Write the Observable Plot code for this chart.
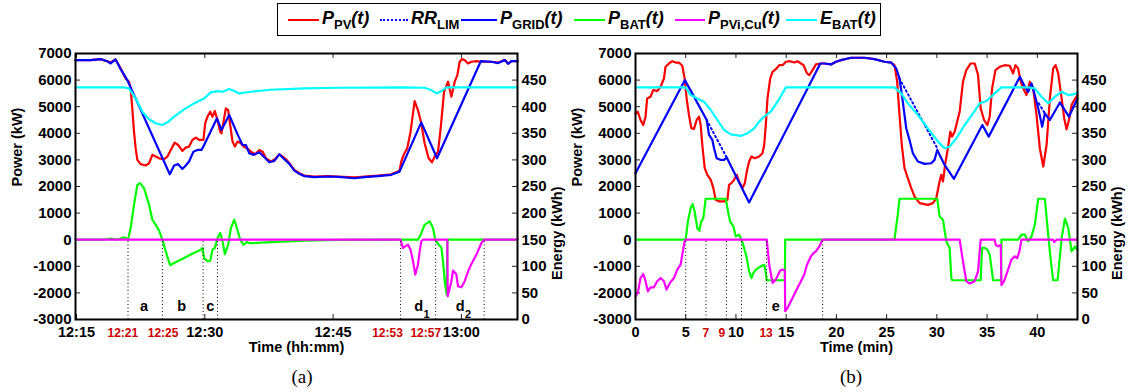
<!DOCTYPE html>
<html><head><meta charset="utf-8">
<script src="https://cdn.jsdelivr.net/npm/d3@7"></script>
<script src="https://cdn.jsdelivr.net/npm/@observablehq/plot@0.6"></script>
<style>
body{margin:0;background:#fff;width:1129px;height:392px;overflow:hidden;font-family:"Liberation Sans",Arial,sans-serif;}
#wrap{position:relative;width:1129px;height:392px;}
#legend{position:absolute;left:277px;top:3px;width:604px;height:33px;border:1.5px solid #000;box-sizing:border-box;background:#fff;}
.item{position:absolute;top:0;height:100%;display:flex;align-items:center;white-space:nowrap;}
.lbl{font-weight:bold;font-size:18px;font-style:italic;line-height:20px;position:relative;top:-2px;}
.sw{display:inline-block;width:31px;height:0;border-top:2px solid;margin-right:3px;}
.lbl sub{font-size:13px;font-style:normal;vertical-align:-5px;line-height:0;}
.cap{position:absolute;top:366px;font-family:"Liberation Serif","Times New Roman",serif;font-size:19px;transform:translateX(-50%);}
.panel{position:absolute;top:40px;}
</style></head>
<body><div id="wrap">
<div id="legend">
  <div class="item" style="left:10px"><span class="sw" style="border-top-color:#ff0000"></span><span class="lbl">P<sub>PV</sub>(t)</span></div>
  <div class="item" style="left:102px"><span class="sw" style="border-top:2px dotted #0000ff;width:28px"></span><span class="lbl">RR<sub>LIM</sub></span></div>
  <div class="item" style="left:183px"><span class="sw" style="border-top-color:#0000ff;width:36px"></span><span class="lbl">P<sub>GRID</sub>(t)</span></div>
  <div class="item" style="left:296px"><span class="sw" style="border-top-color:#00ff00"></span><span class="lbl">P<sub>BAT</sub>(t)</span></div>
  <div class="item" style="left:397px"><span class="sw" style="border-top-color:#ff00ff;width:30px"></span><span class="lbl">P<sub>PVi,Cu</sub>(t)</span></div>
  <div class="item" style="left:508px"><span class="sw" style="border-top-color:#00ffff"></span><span class="lbl">E<sub>BAT</sub>(t)</span></div>
</div>
<div id="pa" class="panel" style="left:0px"></div>
<div id="pb" class="panel" style="left:565px"></div>
<div class="cap" style="left:302px">(a)</div>
<div class="cap" style="left:851px">(b)</div>
</div>
<script>
// ---------- shared ticks ----------
const powerTicks = [-3000,-2000,-1000,0,1000,2000,3000,4000,5000,6000,7000];
const energyTicks = [0,50,100,150,200,250,300,350,400,450];
const eToP = e => e * 20 - 3000; // energy axis 0..500 kWh aligned with power axis -3000..7000 kW

// ---------- panel (a): time in minutes after 12:00 ----------
const aTicks = [15, 30, 45, 60];
const aRedTicks = [21, 25, 53, 57];
const aRedDx = [-5, 1, -14, -10];
const aDots = [21.02, 25.04, 29.8, 31.48, 52.89, 56.99, 62.66];
const aLetters = [["a",22.89],["b",27.3],["c",30.63],["d",55.0],["d",59.85]];
const aSubs = [["1",55.0],["2",59.85]];
const aPV = [[14.88,6750],[16.64,6750],[17.81,6790],[18.59,6710],[18.98,6660],[19.57,6775],[20.16,6440],[20.74,6060],[21.13,5940],[21.33,5690],[21.52,4940],[21.72,4060],[21.91,3440],[22.11,3000],[22.5,2840],[23.09,2790],[23.48,2875],[23.87,3190],[24.26,3125],[24.65,3060],[25.23,3025],[25.63,3125],[26.02,3375],[26.48,3650],[26.88,3560],[27.38,3340],[27.77,3460],[28.16,3500],[28.55,3750],[28.95,3840],[29.34,3750],[29.84,3750],[30.04,4375],[30.31,4625],[30.63,4810],[30.9,4625],[31.17,4840],[31.48,4500],[31.8,4060],[31.95,4000],[32.19,4440],[32.46,4940],[32.73,4875],[32.97,4310],[33.24,3690],[33.52,3500],[33.83,3690],[34.22,3625],[34.53,3500],[34.92,3440],[35.39,3310],[35.9,3210],[36.37,3375],[36.76,3310],[37.15,3060],[37.73,2940],[38.2,3025],[38.71,3210],[39.1,3125],[39.49,3025],[39.88,2875],[40.47,2625],[41.05,2500],[41.64,2410],[42.81,2375],[44.38,2390],[45.55,2375],[47.5,2340],[48.67,2375],[50.23,2410],[51.8,2460],[52.77,2590],[52.97,2940],[53.28,3210],[53.67,3440],[54.06,4060],[54.53,5210],[54.92,4875],[55.31,4375],[55.7,3625],[56.17,3060],[56.56,2910],[56.88,3125],[57.27,3310],[57.58,4190],[57.97,5560],[58.44,5940],[58.83,5375],[59.22,5940],[59.53,6190],[59.8,6690],[60.08,6790],[60.39,6750],[60.78,6625],[61.17,6690],[61.76,6710],[62.34,6690],[63.52,6690],[64.3,6660],[65.08,6750],[65.47,6625],[65.86,6710],[66.56,6710]];
const aGRID = [[14.88,6750],[16.64,6750],[17.81,6790],[18.59,6710],[18.98,6625],[19.57,6775],[20.16,6410],[20.94,6000],[25.9,2460],[26.41,2790],[26.88,2840],[27.38,2660],[27.77,2790],[28.16,2940],[28.67,3310],[29.14,3375],[29.61,3375],[29.92,3560],[31.41,4560],[31.95,4125],[32.85,4690],[33.83,3960],[34.41,3560],[34.8,3560],[35.2,3250],[35.7,3190],[36.37,3290],[36.88,3125],[37.54,2910],[38.13,2960],[38.71,3210],[39.3,3025],[39.88,2850],[40.47,2600],[41.05,2475],[41.64,2390],[42.81,2350],[44.38,2375],[45.55,2360],[47.5,2310],[48.67,2350],[50.23,2390],[51.8,2440],[52.77,2560],[55.31,4410],[57.15,3060],[62.27,6710],[63.52,6690],[64.3,6640],[65.08,6760],[65.47,6610],[65.86,6710],[66.56,6710]];
const aBAT = [[14.88,0],[18.2,0],[18.98,40],[19.77,0],[20.55,90],[21.02,0],[21.33,440],[21.72,1310],[22.11,2060],[22.42,2125],[22.89,1940],[23.48,1310],[23.87,750],[24.26,560],[24.65,340],[25.04,0],[25.43,-440],[25.94,-960],[26.41,-875],[27.19,-750],[28.36,-560],[29.53,-375],[29.73,-310],[29.92,-690],[30.31,-810],[30.63,-790],[30.9,-375],[31.17,-310],[31.48,60],[31.8,250],[32.07,-60],[32.34,-540],[32.73,-190],[33.05,440],[33.44,750],[33.75,440],[34.14,0],[34.53,-190],[34.92,-90],[35.2,-125],[35.78,-125],[37.73,-90],[41.64,-40],[45.55,-10],[52.77,0],[54.92,0],[55.23,190],[55.7,560],[56.29,690],[56.68,440],[56.95,0],[57.27,-160],[57.66,-290],[57.85,-810],[58.05,-1560],[58.28,-2060],[58.36,0],[66.56,0]];
const aCU = [[14.88,0],[52.89,0],[53.16,-310],[53.44,-250],[53.75,-190],[54.06,-375],[54.34,-810],[54.61,-1310],[54.92,-940],[55.12,-440],[55.31,-60],[55.51,0],[58.36,0],[58.4,-2125],[58.83,-1560],[59.02,-1160],[59.41,-1310],[59.61,-1750],[60.0,-1790],[60.39,-1560],[60.78,-1190],[61.17,-910],[61.76,-560],[62.34,-125],[62.66,0],[66.56,0]];
const aEBAT = [[14.88,436.3],[20.55,436.3],[21.13,434.4],[21.91,415.6],[22.7,390.6],[23.48,376.3],[24.26,368.8],[25.04,365.6],[25.63,370.6],[26.41,381.3],[27.58,395],[28.75,406.3],[29.92,415.6],[30.7,426.9],[31.48,429.4],[32.07,428.1],[32.85,433.1],[33.44,429.4],[34.02,425],[35.39,428.1],[37.73,431.9],[41.64,434.4],[45.55,435.6],[53.36,436.3],[55.7,435.6],[56.48,431.3],[57.07,425],[57.66,429.4],[58.24,436.3],[66.56,436.3]];
const aRR = [];

// ---------- panel (b): time in minutes ----------
const bTicks = [0,5,10,15,20,25,30,35,40];
const bRedTicks = [7, 9, 13];
const bRedDx = [0, -4, 0];
const bDots = [5.0, 7.02, 9.05, 10.55, 13.04, 18.63];
const bLetters = [["e",13.97]];
const bSubs = [];
const bPV = [[0,4750],[0.23,4810],[0.5,4500],[0.77,4310],[1.0,4625],[1.16,5310],[1.5,5375],[1.76,5625],[2.16,5590],[2.5,5750],[2.83,6060],[2.99,6500],[3.33,6625],[3.66,6710],[3.99,6660],[4.32,6660],[4.66,6540],[4.89,6060],[5.09,5310],[5.32,4690],[5.56,4190],[5.82,4160],[6.09,4500],[6.32,4625],[6.49,4310],[6.65,3560],[6.89,2690],[7.15,2440],[7.49,2250],[7.75,1940],[7.98,1500],[8.32,1440],[8.82,1440],[9.15,1500],[9.31,2060],[9.55,2125],[9.81,2250],[10.08,2440],[10.31,2190],[10.65,1940],[10.88,2125],[11.08,2560],[11.31,2940],[11.54,3125],[11.88,3060],[12.31,3125],[12.64,3250],[12.81,3560],[12.97,4310],[13.14,5310],[13.41,6060],[13.64,6310],[13.97,6410],[14.3,6560],[14.64,6560],[14.97,6690],[15.4,6710],[15.8,6660],[16.13,6710],[16.47,6625],[16.73,6560],[17.07,6250],[17.3,6190],[17.63,6375],[17.96,6590],[18.46,6625],[18.8,6625],[19.46,6590],[19.96,6690],[20.46,6750],[21.46,6840],[22.79,6840],[23.79,6790],[24.78,6690],[25.45,6660],[25.78,6560],[26.05,5940],[26.28,4690],[26.51,3560],[26.78,2690],[27.11,2310],[27.45,1940],[27.78,1625],[28.28,1375],[29.11,1310],[29.61,1375],[29.94,1560],[30.27,2190],[30.44,2440],[30.61,2190],[30.84,2875],[31.1,3440],[31.34,4060],[31.5,3875],[31.77,4060],[32.27,4810],[32.6,5940],[32.93,6375],[33.37,6625],[33.77,6625],[34.1,6190],[34.36,4940],[34.7,4500],[35.03,4310],[35.26,4625],[35.5,5690],[35.83,6375],[36.26,6500],[36.76,6560],[37.26,6540],[37.59,6250],[37.82,6560],[38.09,6440],[38.36,5940],[38.59,5690],[38.92,5440],[39.25,5940],[39.59,5690],[39.92,4690],[40.25,3440],[40.59,2750],[40.92,3560],[41.25,5310],[41.58,6440],[41.82,6560],[42.08,6250],[42.42,5310],[42.68,4560],[42.91,4150],[43.15,4500],[43.41,5060],[43.68,5250],[44.0,5440]];
const bGRID = [[0,2500],[4.92,6000],[7.09,4500],[7.32,3940],[7.65,3750],[7.82,3440],[8.08,3060],[8.48,3000],[8.82,3000],[9.08,3090],[11.31,1400],[18.4,6625],[18.8,6625],[19.46,6590],[19.96,6690],[20.46,6750],[21.46,6840],[22.79,6840],[23.79,6790],[24.78,6690],[25.45,6660],[25.95,6440],[26.28,6060],[26.61,5190],[26.95,4190],[27.28,3750],[27.61,3250],[28.11,2940],[28.78,2850],[29.44,2875],[29.77,3000],[30.04,3375],[30.27,3190],[30.77,2810],[31.7,2290],[34.53,4310],[35.16,3875],[38.26,6125],[38.76,5750],[39.09,5560],[39.42,5875],[39.75,5440],[40.09,4940],[40.49,4250],[40.75,4750],[41.25,4500],[42.25,5160],[43.15,4625],[44.0,5310]];
const bRR = [[7.09,4500,1],[9.08,3090,1],[26.28,6060,2],[30.04,3440,2],[40.15,5125,3],[40.75,4750,3]];
const bBAT = [[0,0],[4.99,0],[5.22,690],[5.49,1190],[5.69,1340],[5.89,1060],[6.15,440],[6.35,340],[6.55,690],[6.75,810],[6.99,1540],[8.98,1540],[9.21,1060],[9.41,690],[9.75,500],[9.98,125],[10.31,190],[10.55,0],[10.81,-310],[11.08,-690],[11.31,-1190],[11.54,-1440],[11.74,-1250],[11.98,-1125],[12.47,-1000],[12.81,-940],[12.97,-1250],[13.07,-1525],[14.87,-1525],[14.9,0],[25.78,0],[26.11,940],[26.28,1540],[30.04,1540],[30.27,875],[30.61,750],[30.94,-60],[31.27,-310],[31.44,-1440],[31.54,-1525],[34.36,-1525],[34.5,-310],[34.76,-310],[35.03,-375],[35.26,-560],[35.6,-1525],[36.39,-1525],[36.43,0],[38.09,0],[38.42,190],[38.76,190],[39.09,-60],[39.42,125],[39.75,560],[40.09,1540],[40.75,1540],[41.08,190],[41.35,-810],[41.58,-1525],[42.02,-1525],[42.42,60],[42.75,790],[43.08,440],[43.41,-440],[43.75,-250],[44.0,-375]];
const bCU = [[0,-2125],[0.23,-2000],[0.5,-1440],[0.77,-1290],[1.0,-1560],[1.23,-1940],[1.5,-1790],[1.83,-1790],[2.16,-1560],[2.5,-1440],[2.83,-1560],[3.09,-1875],[3.43,-1625],[3.83,-1440],[4.16,-1125],[4.49,-940],[4.66,-560],[4.89,-60],[4.99,0],[13.07,0],[13.31,-940],[13.64,-1625],[13.97,-1500],[14.4,-1160],[14.64,-1125],[14.87,-1160],[14.9,-2690],[15.14,-2560],[15.47,-2310],[15.8,-2060],[16.13,-1810],[16.47,-1560],[16.8,-1310],[17.07,-940],[17.47,-625],[17.73,-500],[17.96,-440],[18.3,-250],[18.63,0],[32.27,0],[32.6,-810],[32.93,-1560],[33.27,-1650],[33.77,-1560],[34.1,-1190],[34.36,0],[35.76,0],[35.86,-190],[36.09,-250],[36.36,-190],[36.43,-1710],[36.69,-1560],[37.09,-1125],[37.42,-750],[37.76,-625],[37.99,-690],[38.22,-440],[38.42,0],[41.58,0],[41.68,-90],[41.92,0],[44.0,0]];
const bEBAT = [[0,436.3],[4.99,436.3],[5.49,421.9],[6.15,415.6],[6.82,409.4],[7.49,393.8],[8.15,375],[8.82,356.3],[9.48,348.1],[10.48,345],[11.14,350],[11.81,359.4],[12.31,371.9],[12.81,381.3],[13.47,390.6],[14.14,409.4],[14.97,436.3],[25.78,436.3],[26.45,425],[27.11,406.3],[28.11,384.4],[29.11,359.4],[30.11,334.4],[30.77,321.9],[31.27,325],[31.94,340.6],[32.77,365.6],[33.6,387.5],[34.26,406.3],[34.93,410.6],[35.76,425],[36.43,436.3],[39.09,436.3],[39.75,434.4],[40.42,418.8],[41.08,406.3],[41.75,418.8],[42.42,428.1],[43.08,421.9],[43.58,423.1],[44.0,426.3]];

const fmtA = d => `${12 + Math.floor(d / 60)}:${String(d % 60).padStart(2, "0")}`;
const fmtB = d => String(d);

function panel(o) {
  const H = 266, W = o.width - o.ml - o.mr;
  const font = "'Liberation Sans', Arial, sans-serif";
  return Plot.plot({
    width: o.width, height: 330,
    marginLeft: o.ml, marginRight: o.mr, marginTop: 13, marginBottom: 51,
    x: {domain: o.xDomain, axis: null},
    y: {domain: [-3000, 7000], axis: null},
    style: {fontFamily: font, fontWeight: "bold", fontSize: "15px", overflow: "visible", background: "transparent", color: "#000"},
    marks: [
      // inward ticks
      Plot.tickY(powerTicks, {y: d => d, insetRight: W - 5, stroke: "#222", strokeWidth: 1}),
      Plot.tickY(energyTicks, {y: d => eToP(d), insetLeft: W - 5, stroke: "#222", strokeWidth: 1}),
      Plot.tickX(o.xTicks, {x: d => d, insetTop: H - 5, stroke: "#222", strokeWidth: 1}),
      Plot.tickX(o.xTicks, {x: d => d, insetBottom: H - 5, stroke: "#222", strokeWidth: 1}),
      // series
      Plot.line(o.pv, {x: d => d[0], y: d => d[1], stroke: "#ff0000", strokeWidth: 2.2}),
      Plot.line(o.rr, {x: d => d[0], y: d => d[1], z: d => d[2], stroke: "#0000ff", strokeWidth: 2, strokeDasharray: "1.5,3"}),
      Plot.line(o.grid, {x: d => d[0], y: d => d[1], stroke: "#0000ff", strokeWidth: 2.2}),
      Plot.line(o.bat, {x: d => d[0], y: d => d[1], stroke: "#00ff00", strokeWidth: 2.2}),
      Plot.line(o.cu, {x: d => d[0], y: d => d[1], stroke: "#ff00ff", strokeWidth: 2.2}),
      Plot.line(o.ebat, {x: d => d[0], y: d => eToP(d[1]), stroke: "#00ffff", strokeWidth: 2.2}),
      // dotted interval markers
      Plot.ruleX(o.dots, {x: d => d, y1: -3000, y2: 0, stroke: "#000", strokeWidth: 1, strokeDasharray: "1,2.5"}),
      Plot.text(o.letters, {x: d => d[1], y: -2500, text: d => d[0], fontSize: 14.5, fontWeight: "bold", fill: "#000"}),
      Plot.text(o.subs, {x: d => d[1], y: -2500, text: d => d[0], dx: 8, dy: 8, fontSize: 11, fontWeight: "bold", fill: "#000"}),
      // tick labels
      Plot.text(powerTicks, {y: d => d, frameAnchor: "left", textAnchor: "end", dx: -4, text: d => String(d), fontSize: 15, fill: "#000"}),
      Plot.text(energyTicks, {y: d => eToP(d), frameAnchor: "right", textAnchor: "start", dx: 4, text: d => String(d), fontSize: 15, fill: "#000"}),
      Plot.text(o.xTicks, {x: d => d, frameAnchor: "bottom", lineAnchor: "top", dy: 7.5, text: o.fmt, fontSize: 14.5, fill: "#000"}),
      ...o.redTicks.map((t, i) => Plot.text([t], {x: d => d, frameAnchor: "bottom", lineAnchor: "top", dy: 8.5, dx: o.redDx[i], text: o.fmt, fontSize: 12, fill: "#cc0000"})),
      // axis titles
      Plot.text(["Power (kW)"], {frameAnchor: "left", rotate: -90, dx: -58, fontSize: 14.5, fill: "#000"}),
      Plot.text(["Energy (kWh)"], {frameAnchor: "right", rotate: -90, dx: 40, fontSize: 14.5, fill: "#000"}),
      Plot.text([o.xLabel], {frameAnchor: "bottom", lineAnchor: "middle", dy: 28, fontSize: 14.5, fill: "#000"}),
      Plot.frame({stroke: "#000", strokeWidth: 2})
    ]
  });
}

document.getElementById("pa").append(panel({
  width: 565, ml: 75, mr: 48, xDomain: [14.88, 66.56],
  pv: aPV, grid: aGRID, rr: aRR, bat: aBAT, cu: aCU, ebat: aEBAT,
  dots: aDots, letters: aLetters, subs: aSubs,
  xTicks: aTicks, redTicks: aRedTicks, redDx: aRedDx, fmt: fmtA, xLabel: "Time (hh:mm)"
}));
document.getElementById("pb").append(panel({
  width: 564, ml: 70, mr: 52, xDomain: [0, 44],
  pv: bPV, grid: bGRID, rr: bRR, bat: bBAT, cu: bCU, ebat: bEBAT,
  dots: bDots, letters: bLetters, subs: bSubs,
  xTicks: bTicks, redTicks: bRedTicks, redDx: bRedDx, fmt: fmtB, xLabel: "Time (min)"
}));
</script>
</body></html>
